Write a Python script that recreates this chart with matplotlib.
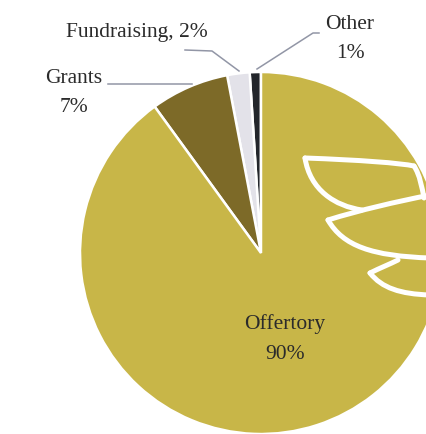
import numpy as np
import matplotlib
matplotlib.use("Agg")
from matplotlib import pyplot as plt
from matplotlib.path import Path
from matplotlib.patches import PathPatch

# slices, counter-clockwise from 12 o'clock
categories = ["Other", "Fundraising", "Grants", "Offertory"]
shares = [1, 2, 7, 90]
colors = ["#23262b", "#e3e2e9", "#7d6a28", "#c8b648"]

W, H = 426, 434
CX, CY, R = 261, 181, 181


def Y(y):
    # image row -> data y
    return H - y


fig = plt.figure(figsize=(W / 100, H / 100), dpi=100)
ax = fig.add_axes([0, 0, 1, 1])

wedges, _ = ax.pie(shares, colors=colors, startangle=90, counterclock=True,
                   center=(CX, CY), radius=R, frame=True,
                   wedgeprops=dict(edgecolor="white", linewidth=1.8))
ax.set_xlim(0, W)
ax.set_ylim(0, H)
ax.set_aspect("equal")
ax.axis("off")

# decorative wing inside the big slice
wing = [
    [(305, 158), (360, 160), (400, 163), (414, 166)],
    [(414, 166), (420, 175), (422, 188), (424, 198)],
    [(305, 158), (310, 190), (335, 206), (362, 210)],
    [(328, 220), (360, 210), (395, 202), (430, 195)],
    [(328, 220), (343, 246), (372, 256), (430, 258)],
    [(370, 273), (380, 268), (390, 264), (398, 260)],
    [(370, 273), (382, 288), (400, 294), (430, 295)],
]
for seg in wing:
    verts = [(x, Y(y)) for x, y in seg]
    p = PathPatch(Path(verts, [Path.MOVETO, Path.CURVE4, Path.CURVE4, Path.CURVE4]),
                  facecolor="none", edgecolor="white", linewidth=3.6,
                  capstyle="round", joinstyle="round")
    ax.add_patch(p)
    p.set_clip_path(wedges[3])

font = dict(family="Liberation Serif", fontsize=15.5, color="#2b2b2b")
labels = {
    "Offertory": (f"{categories[3]}\n{shares[3]}%", (285, 339)),
    "Other": (f"{categories[0]}\n{shares[0]}%", (350, 39)),
    "Grants": (f"{categories[2]}\n{shares[2]}%", (74, 93)),
    "Fundraising": (f"{categories[1]}, {shares[1]}%", (137, 33)),
}
for txt, (x, y) in labels.values():
    ax.text(x, Y(y), txt, ha="center", va="center", multialignment="center",
            linespacing=1.75, **font)

# leader lines
leaders = [
    [(108, 84), (192, 84)],
    [(185, 50), (212, 51), (239, 71)],
    [(319, 33), (313, 33), (257, 69)],
]
for pts in leaders:
    xs, ys = zip(*pts)
    ax.plot(xs, [Y(v) for v in ys], color="#9296a6", linewidth=1.1)

fig.savefig("out.png", dpi=100)
